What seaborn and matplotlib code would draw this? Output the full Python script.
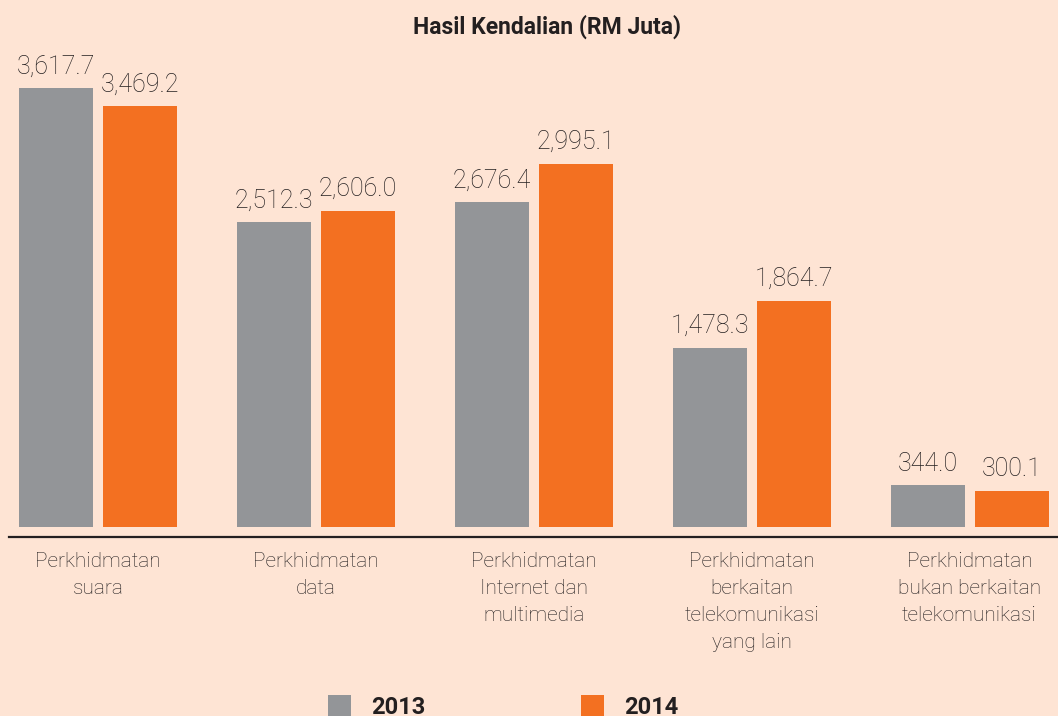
import matplotlib
matplotlib.use("Agg")
import matplotlib.pyplot as plt
from matplotlib.patches import Patch
import pandas as pd
import seaborn as sns

# Revenue by segment (RM million)
categories = [
    "Perkhidmatan\nsuara",
    "Perkhidmatan\ndata",
    "Perkhidmatan\nInternet dan\nmultimedia",
    "Perkhidmatan\nberkaitan\ntelekomunikasi\nyang lain",
    "Perkhidmatan\nbukan berkaitan\ntelekomunikasi",
]
years = ["2013", "2014"]
values_2013 = [3617.7, 2512.3, 2676.4, 1478.3, 344.0]
values_2014 = [3469.2, 2606.0, 2995.1, 1864.7, 300.1]

BG = "#FEE4D4"
GREY = "#939598"
ORANGE = "#F37021"
TEXT = "#231F20"

df = pd.DataFrame({
    "kategori": categories * 2,
    "tahun": [years[0]] * len(categories) + [years[1]] * len(categories),
    "nilai": values_2013 + values_2014,
})

sns.set_theme(style="white")
plt.rcParams["font.family"] = ["Roboto", "DejaVu Sans"]

W, H = 1058, 716
fig = plt.figure(figsize=(W / 100, H / 100), dpi=100, facecolor=BG)
ax = fig.add_axes([9 / W, (H - 537) / H, (W - 9) / W, (537 - 60) / H])
ax.set_facecolor(BG)

sns.barplot(
    data=df, x="kategori", y="nilai", hue="tahun",
    order=categories, hue_order=years,
    palette=[GREY, ORANGE], width=0.771, gap=0.119,
    saturation=1, linewidth=0, legend=False, ax=ax,
)

for cont in ax.containers:
    ax.bar_label(cont, labels=[f"{v:,.1f}" for v in cont.datavalues],
                 padding=7, fontsize=18, fontweight="light", color=TEXT)

ax.set_xlim(-0.408, 4.406)
ax.set_ylim(-82, 3850)
ax.set_xlabel("")
ax.set_ylabel("")
ax.set_yticks([])
ax.tick_params(axis="x", length=0, pad=11, labelsize=15, labelcolor=TEXT)
for lbl in ax.get_xticklabels():
    lbl.set_linespacing(1.52)
    lbl.set_fontweight("light")
    lbl.set_va("top")

for side in ["top", "right", "left"]:
    ax.spines[side].set_visible(False)
ax.spines["bottom"].set_color(TEXT)
ax.spines["bottom"].set_linewidth(1.6)

fig.text(547 / W, 1 - 27 / H, "Hasil Kendalian (RM Juta)", ha="center", va="center",
         fontsize=16.5, fontweight="bold", color=TEXT)

handles = [Patch(facecolor=GREY, edgecolor="none"), Patch(facecolor=ORANGE, edgecolor="none")]
fig.legend(handles, years, loc="center", bbox_to_anchor=(503 / W, 1 - 707 / H),
           ncol=2, frameon=False, handlelength=0.97, handleheight=0.95,
           handletextpad=0.85, columnspacing=6.6,
           prop={"weight": "bold", "size": 17}, labelcolor=TEXT)

fig.savefig("out.png", dpi=100, facecolor=BG)
